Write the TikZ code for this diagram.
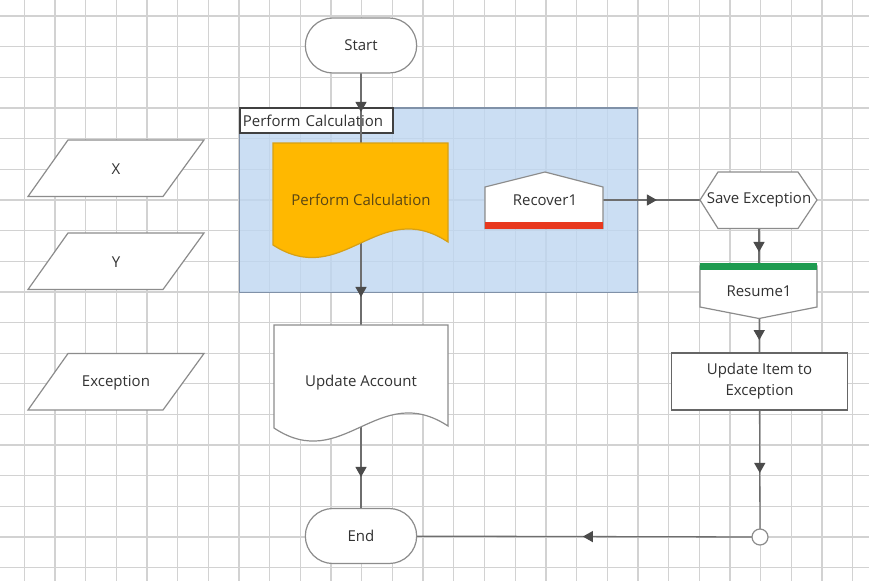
\documentclass[tikz,border=0pt]{standalone}
\usepackage{fontspec}
\setmainfont{Open Sans}
\usetikzlibrary{arrows.meta,decorations.markings,shapes.misc}
\pgfdeclarelayer{back}
\pgfdeclarelayer{mid}
\pgfsetlayers{back,mid,main}
\definecolor{gridc}{RGB}{210,210,210}
\definecolor{linec}{RGB}{110,110,110}
\definecolor{arrowc}{RGB}{75,75,75}
\definecolor{shapec}{RGB}{140,140,140}
\definecolor{txtc}{RGB}{50,50,50}
\definecolor{blueF}{RGB}{190,214,240}
\definecolor{blueB}{RGB}{128,145,168}
\definecolor{orangeF}{RGB}{255,184,0}
\definecolor{orangeB}{RGB}{215,160,20}
\definecolor{orangeT}{RGB}{90,70,20}
\definecolor{redbar}{RGB}{232,56,30}
\definecolor{greenbar}{RGB}{30,155,80}
\begin{document}
\begin{tikzpicture}[x=1pt,y=-1pt, font=\fontsize{15}{21}\selectfont, text=txtc,
  shapeline/.style={draw=shapec, line width=1.2pt, fill=white},
  conn/.style={draw=linec, line width=1.3pt},
  amark/.style={postaction={decorate}, decoration={markings, mark=at position #1 with {\arrow{Triangle[length=10pt,width=11pt,color=arrowc]}}}},
  term/.style={rounded rectangle, shapeline, minimum width=118pt, minimum height=55pt},
  gridline/.style={draw=gridc, line width=1.3pt}]
\useasboundingbox (0,0) rectangle (869,581);

% ---------- background: grid, container, title ----------
\begin{pgfonlayer}{back}
  \fill[white] (0,0) rectangle (869,581);
  \foreach \i in {0,...,27} \draw[gridline] ({24.3+30.68*\i},0) -- ({24.3+30.68*\i},581);
  \foreach \j in {0,...,18} \draw[gridline] (0,{16+30.65*\j}) -- (869,{16+30.65*\j});
  \fill[blueF, fill opacity=0.8] (239.3,108) rectangle (637.5,292.5);
  \draw[blueB, line width=1.2pt] (239.3,108) rectangle (637.5,292.5);
  \node[draw=black!75, line width=1.2pt, fill=white, anchor=west, text width=147pt, align=left,
        inner sep=3pt, minimum height=25pt] (title) at (239.3,120.5) {Perform Calculation};
\end{pgfonlayer}

% ---------- shapes ----------
\node[term] (start) at (361,45.5) {Start};
\node[term] (end) at (361,536) {End};

\draw[draw=orangeB, line width=1.2pt, fill=orangeF] (273,143) -- (448,143) -- (448,242)
   .. controls (378,196) and (343,290) .. (273,245) -- cycle;
\node[text=orangeT] (pc) at (361,200) {Perform Calculation};

\draw[shapeline] (485,187) -- (545,172) -- (603,187) -- (603,228.5) -- (485,228.5) -- cycle;
\fill[redbar] (485,221.5) rectangle (603,228.5);
\node (rec) at (545,200) {Recover1};

\draw[shapeline] (700,200) -- (718,172) -- (798,172) -- (817,200) -- (798,228.5) -- (718,228.5) -- cycle;
\node (se) at (759,200) {Save Exception};

\draw[shapeline] (700,266) -- (817,266) -- (817,307) -- (759,318.5) -- (700,307) -- cycle;
\fill[greenbar] (700,263) rectangle (817,269.5);
\node (res) at (759,291.5) {Resume1};

\node[shapeline, draw=black!60, rectangle, minimum width=175.5pt, minimum height=57pt, align=center] (ui) at (759.5,381.5) {Update Item to\\Exception};

\node[circle, shapeline, minimum size=16pt, inner sep=0pt] (jn) at (760,537) {};

\draw[shapeline] (274,325) -- (448,325) -- (448,426)
   .. controls (378,380) and (343,474) .. (274,428) -- cycle;
\node (ua) at (361,383) {Update Account};

\draw[shapeline] (68,140) -- (204,140) -- (163,196.5) -- (28,196.5) -- cycle;
\node (px) at (116,169) {X};
\draw[shapeline] (68,233) -- (204,233) -- (163,289.5) -- (28,289.5) -- cycle;
\node (py) at (116,262) {Y};
\draw[shapeline] (68,353.5) -- (204,353.5) -- (163,410) -- (28,410) -- cycle;
\node (pe) at (116,382.5) {Exception};

% ---------- connectors ----------
\begin{pgfonlayer}{mid}
  \draw[conn, amark=0.43] (start.center) -- (pc.center);
  \draw[conn, amark=0.53] (pc.center) -- (ua.center);
  \draw[conn, amark=0.614] (ua.center) -- (end.center);
  \draw[conn, amark=0.523] (rec.center) -- (se.center);
  \draw[conn, amark=0.568] (se.center) -- (res.center);
  \draw[conn, amark=0.54] (res.center) -- (ui.center);
  \draw[conn, amark=0.588] (ui.center) -- (jn.center);
  \draw[conn, amark=0.444] (jn.center) -- (end.center);
\end{pgfonlayer}
\end{tikzpicture}
\end{document}
